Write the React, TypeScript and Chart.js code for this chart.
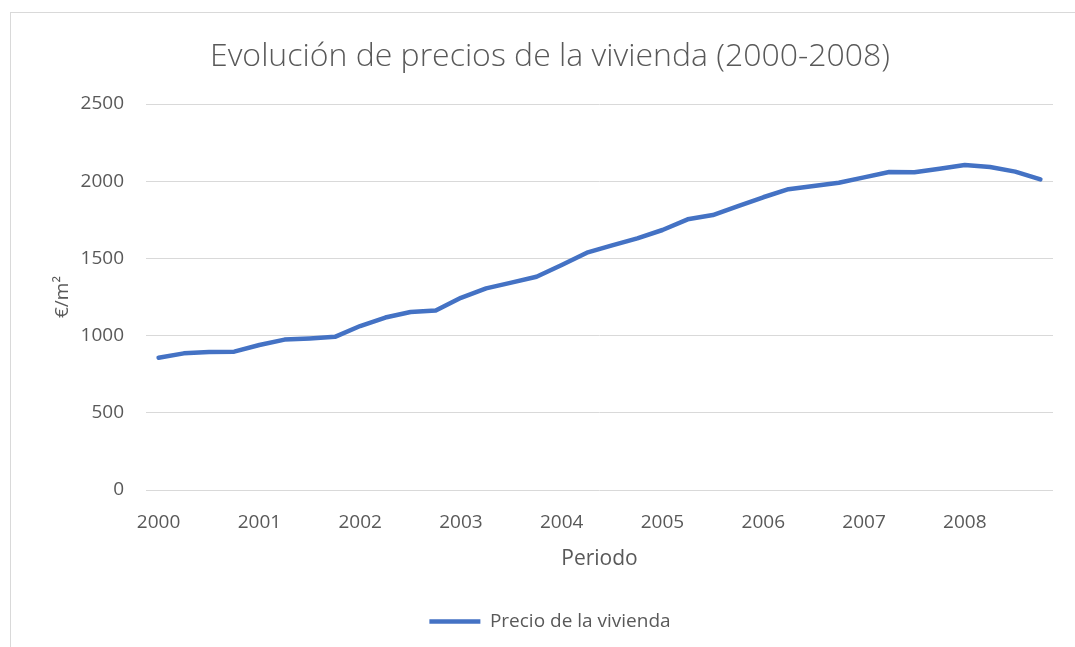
import React, { useEffect, useRef } from 'react';
import { Chart, registerables } from 'chart.js';

Chart.register(...registerables);

const years = ['2000', '2001', '2002', '2003', '2004', '2005', '2006', '2007', '2008'];
const quarters = ['T1', 'T2', 'T3', 'T4'];
const categories = years.flatMap((y) => quarters.map((q) => `${y} ${q}`));

// Precio medio de la vivienda (€/m²), trimestral 2000-2008
const prices = [
  857, 885, 894, 896,
  939, 974, 982, 992,
  1062, 1117, 1153, 1162,
  1245, 1306, 1343, 1381,
  1457, 1537, 1584, 1630,
  1684, 1753, 1781, 1839,
  1896, 1948, 1969, 1990,
  2025, 2060, 2058, 2080,
  2105, 2092, 2062, 2012,
];

const yMin = 0;
const yMax = 2500;
const yStep = 500;

const titleText = 'Evolución de precios de la vivienda (2000-2008)';
const seriesName = 'Precio de la vivienda';
const xTitle = 'Periodo';
const yTitle = '€/m²';

const FONT = 'Open Sans';
const TEXT = '#595959';
const GRID = '#d9d9d9';
const BLUE = '#4472C4';

const PAD_LEFT = 47;

export default function App() {
  const ref = useRef<HTMLCanvasElement>(null);

  useEffect(() => {
    const chart = new Chart(ref.current as HTMLCanvasElement, {
      type: 'line',
      data: {
        labels: categories,
        datasets: [
          {
            label: seriesName,
            data: prices,
            borderColor: BLUE,
            backgroundColor: BLUE,
            borderWidth: 4.5,
            pointRadius: 0,
            tension: 0,
            borderCapStyle: 'round',
            borderJoinStyle: 'round',
          },
        ],
      },
      options: {
        responsive: false,
        animation: false,
        layout: { padding: { left: PAD_LEFT, top: 12, right: 22, bottom: 6 } },
        plugins: {
          title: {
            display: true,
            text: titleText,
            color: TEXT,
            font: { family: FONT, size: 32, weight: '300' },
            padding: { top: 26, bottom: 27.6 },
          },
          legend: {
            position: 'bottom',
            labels: {
              usePointStyle: true,
              pointStyle: 'line',
              pointStyleWidth: 51,
              color: TEXT,
              font: { family: FONT, size: 19 },
              padding: 10,
            },
          },
          tooltip: { enabled: false },
        },
        scales: {
          x: {
            offset: true,
            grid: { display: false },
            border: { display: false },
            ticks: {
              autoSkip: false,
              maxRotation: 0,
              minRotation: 0,
              padding: 13,
              color: TEXT,
              font: { family: FONT, size: 19 },
              callback: (_v: any, i: number) => (i % 4 === 0 ? categories[i].slice(0, 4) : ''),
            },
            title: {
              display: true,
              text: xTitle,
              color: TEXT,
              font: { family: FONT, size: 21 },
              padding: 30,
            },
            afterFit: (s: any) => {
              s.height = 112;
            },
          },
          y: {
            min: yMin,
            max: yMax,
            ticks: {
              stepSize: yStep,
              padding: 22,
              color: TEXT,
              font: { family: FONT, size: 19 },
              callback: (v: any) => String(v),
            },
            grid: { color: GRID, lineWidth: 1, drawTicks: false },
            border: { display: false },
            title: {
              display: true,
              text: yTitle,
              color: TEXT,
              font: { family: FONT, size: 19 },
              padding: 51 - PAD_LEFT,
            },
            afterFit: (s: any) => {
              s.width = 146 - PAD_LEFT;
            },
          },
        },
      },
    });
    return () => chart.destroy();
  }, []);

  return (
    <div style={{ position: 'fixed', left: 0, top: 0, width: 1075, height: 647, background: '#fff' }}>
      <div
        style={{
          position: 'absolute',
          left: 10,
          top: 12,
          right: 0,
          bottom: 0,
          borderLeft: `1px solid ${GRID}`,
          borderTop: `1px solid ${GRID}`,
        }}
      />
      <canvas ref={ref} width={1075} height={647} style={{ position: 'absolute', left: 0, top: 0 }} />
    </div>
  );
}
